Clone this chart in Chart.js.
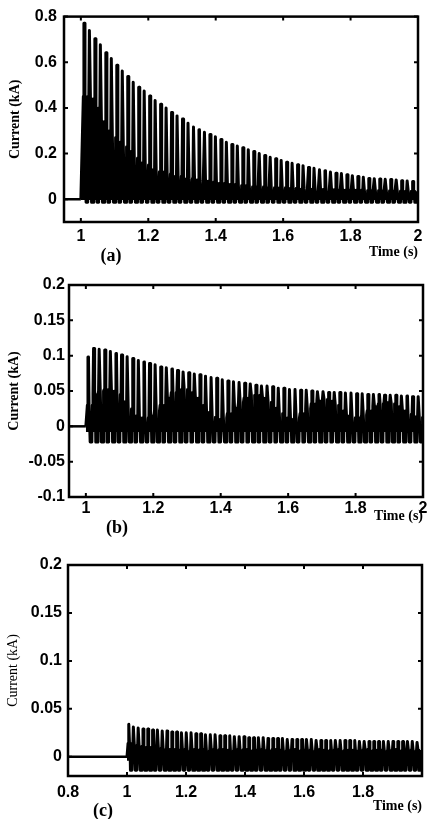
<!DOCTYPE html>
<html>
<head>
<meta charset="utf-8">
<script src="https://cdn.jsdelivr.net/npm/chart.js@4/dist/chart.umd.min.js"></script>
<style>
  body { margin: 0; background: #fff; }
  #wrap { position: relative; width: 433px; height: 819px; overflow: hidden; }
  canvas { position: absolute; left: 0; }
  .cap { position: absolute; font: bold 18px 'Liberation Serif', serif; color: #000; transform: translate(-50%, -50%); }
</style>
</head>
<body>
<div id="wrap">
  <canvas id="chartA" width="433" height="270" style="top:0"></canvas>
  <canvas id="chartB" width="433" height="275" style="top:270px"></canvas>
  <canvas id="chartC" width="433" height="274" style="top:545px"></canvas>
  <div class="cap" style="left:111px;top:255px">(a)</div>
  <div class="cap" style="left:117px;top:527px">(b)</div>
  <div class="cap" style="left:103px;top:810px">(c)</div>
</div>
<script>
// fault instant, current is 0 before it
var FAULT_T = 1.0;

// (a) one peak / valley per cycle
var A_START = 1.0098, A_PERIOD = 0.01625, A_TROUGH = -0.013, A_FLOOR = -0.004;
var A_PEAKS = [0.771, 0.739, 0.703, 0.677, 0.642, 0.616, 0.587, 0.562, 0.538, 0.512,
  0.490, 0.474, 0.452, 0.432, 0.416, 0.399, 0.380, 0.365, 0.351, 0.333,
  0.316, 0.304, 0.293, 0.283, 0.273, 0.261, 0.249, 0.240, 0.233, 0.225,
  0.217, 0.209, 0.200, 0.191, 0.184, 0.177, 0.170, 0.162, 0.157, 0.151,
  0.147, 0.139, 0.135, 0.129, 0.125, 0.119, 0.114, 0.112, 0.107, 0.103,
  0.099, 0.096, 0.091, 0.090, 0.088, 0.087, 0.086, 0.084, 0.081, 0.080, 0.078];
var A_VALLEYS = [0.45, 0.44, 0.40, 0.34, 0.30, 0.27, 0.25, 0.23, 0.21, 0.18,
  0.16, 0.15, 0.13, 0.12, 0.12, 0.11, 0.10, 0.10, 0.09, 0.09,
  0.085, 0.08, 0.08, 0.075, 0.07, 0.07, 0.065, 0.065, 0.06, 0.06,
  0.055, 0.055, 0.055, 0.05, 0.05, 0.05, 0.05, 0.048, 0.048, 0.045,
  0.045, 0.045, 0.043, 0.043, 0.042, 0.042, 0.04, 0.04, 0.04, 0.04,
  0.04, 0.038, 0.038, 0.038, 0.037, 0.037, 0.036, 0.036, 0.035, 0.035, 0.035];

// (b)
var B_START = 1.007, B_PERIOD = 0.0166, B_TROUGH = -0.022, B_FLOOR = -0.008;
var B_PEAKS = [0.098, 0.110, 0.109, 0.108, 0.106, 0.103, 0.101, 0.0985, 0.096, 0.093,
  0.091, 0.089, 0.087, 0.084, 0.083, 0.081, 0.079, 0.077, 0.076, 0.074,
  0.073, 0.071, 0.069, 0.068, 0.066, 0.064, 0.063, 0.062, 0.061, 0.060,
  0.058, 0.057, 0.057, 0.056, 0.054, 0.054, 0.052, 0.052, 0.051, 0.051,
  0.050, 0.049, 0.049, 0.048, 0.048, 0.048, 0.047, 0.047, 0.046, 0.046,
  0.045, 0.045, 0.045, 0.044, 0.044, 0.044, 0.043, 0.043, 0.042, 0.042];
var B_VALLEYS = [0.03, 0.045, 0.05, 0.052, 0.05, 0.045, 0.035, 0.025, 0.015, 0.012,
  0.012, 0.015, 0.022, 0.03, 0.04, 0.048, 0.052, 0.052, 0.048, 0.04,
  0.03, 0.02, 0.013, 0.01, 0.012, 0.018, 0.026, 0.034, 0.04, 0.044,
  0.044, 0.04, 0.034, 0.026, 0.018, 0.012, 0.01, 0.012, 0.018, 0.025,
  0.032, 0.036, 0.038, 0.036, 0.03, 0.022, 0.015, 0.012, 0.012, 0.016,
  0.022, 0.028, 0.032, 0.034, 0.032, 0.028, 0.022, 0.017, 0.014, 0.014];

// (c)
var C_START = 1.006, C_PERIOD = 0.0163, C_TROUGH = -0.014, C_FLOOR = -0.004;
var C_PEAKS = [0.034, 0.031, 0.030, 0.029, 0.029, 0.028, 0.028, 0.027, 0.027, 0.026,
  0.026, 0.025, 0.025, 0.025, 0.024, 0.024, 0.023, 0.023, 0.023, 0.022,
  0.022, 0.022, 0.021, 0.021, 0.021, 0.020, 0.020, 0.020, 0.020, 0.019,
  0.019, 0.019, 0.019, 0.018, 0.018, 0.018, 0.018, 0.018, 0.018, 0.017,
  0.017, 0.017, 0.017, 0.017, 0.017, 0.017, 0.017, 0.017, 0.016, 0.016,
  0.016, 0.016, 0.016, 0.016, 0.016, 0.016, 0.016, 0.016, 0.016, 0.016, 0.015];
var C_VALLEYS = [0.014, 0.012, 0.011, 0.010, 0.010, 0.009, 0.009, 0.008, 0.008, 0.008,
  0.007, 0.008, 0.006, 0.008, 0.007, 0.008, 0.006, 0.008, 0.007, 0.008,
  0.007, 0.006, 0.008, 0.007, 0.008, 0.006, 0.007, 0.008, 0.007, 0.006,
  0.008, 0.007, 0.006, 0.007, 0.008, 0.006, 0.007, 0.007, 0.006, 0.008,
  0.007, 0.006, 0.007, 0.008, 0.006, 0.007, 0.007, 0.006, 0.007, 0.008,
  0.006, 0.007, 0.007, 0.006, 0.007, 0.008, 0.006, 0.007, 0.007, 0.006, 0.007];

// axis ticks
var A_XTICKS = [1, 1.2, 1.4, 1.6, 1.8, 2];
var A_YTICKS = [0, 0.2, 0.4, 0.6, 0.8];
var B_XTICKS = [1, 1.2, 1.4, 1.6, 1.8, 2];
var B_YTICKS = [-0.1, -0.05, 0, 0.05, 0.1, 0.15, 0.2];
var C_XTICKS = [0.8, 1, 1.2, 1.4, 1.6, 1.8];
var C_YTICKS = [0, 0.05, 0.1, 0.15, 0.2];

// flat-topped spike per cycle, a short dip to the trough half a cycle later
function buildTrace(start, period, peaks, valleys, trough) {
  var d = period * 0.15;
  var pts = [{ x: FAULT_T, y: 0 }];
  peaks.forEach(function (p, k) {
    var t = start + k * period, v = valleys[k], h = t + period / 2;
    pts.push({ x: t - d, y: v }, { x: t - 0.3 * d, y: p }, { x: t + 0.3 * d, y: p }, { x: t + d, y: v });
    pts.push({ x: h - 1.6 * d, y: v }, { x: h - d, y: trough }, { x: h + d, y: trough }, { x: h + 1.6 * d, y: v });
  });
  return pts;
}

// MATLAB style box with inward ticks
var boxPlugin = {
  id: 'box',
  afterDraw: function (chart) {
    var ctx = chart.ctx, a = chart.chartArea, xs = chart.scales.x, ys = chart.scales.y;
    ctx.save();
    ctx.strokeStyle = '#000';
    ctx.lineWidth = 2.5;
    ctx.strokeRect(a.left, a.top, a.right - a.left, a.bottom - a.top);
    ctx.lineWidth = 2;
    ctx.beginPath();
    xs.ticks.forEach(function (t) {
      var px = xs.getPixelForValue(t.value);
      ctx.moveTo(px, a.bottom); ctx.lineTo(px, a.bottom - 4);
      ctx.moveTo(px, a.top); ctx.lineTo(px, a.top + 4);
    });
    ys.ticks.forEach(function (t) {
      var py = ys.getPixelForValue(t.value);
      ctx.moveTo(a.left, py); ctx.lineTo(a.left + 4, py);
      ctx.moveTo(a.right, py); ctx.lineTo(a.right - 4, py);
    });
    ctx.stroke();
    ctx.restore();
  }
};

var TICK_FONT = { family: 'Liberation Sans, Arial, sans-serif', size: 16, weight: 'bold' };

function makePanel(id, p) {
  new Chart(document.getElementById(id), {
    type: 'line',
    data: {
      datasets: [
        { data: [{ x: p.xmin, y: 0 }, { x: FAULT_T, y: 0 }], borderColor: '#000', borderWidth: 2.5, pointRadius: 0, fill: false },
        { data: buildTrace(p.start, p.period, p.peaks, p.valleys, p.trough), borderColor: '#000', backgroundColor: '#000',
          borderWidth: 3, borderJoinStyle: 'round', pointRadius: 0, tension: 0, fill: { value: p.floor } }
      ]
    },
    options: {
      responsive: false,
      animation: false,
      layout: { padding: p.pad },
      plugins: { legend: { display: false }, tooltip: { enabled: false } },
      scales: {
        x: {
          type: 'linear', min: p.xmin, max: p.xmax,
          grid: { display: false, drawTicks: false }, border: { display: false },
          afterBuildTicks: function (s) { s.ticks = p.xticks.map(function (v) { return { value: v }; }); },
          afterFit: function (s) { s.height = p.xh; },
          ticks: { color: '#000', font: TICK_FONT, padding: p.xpad, autoSkip: false, maxRotation: 0,
            callback: function (v) { return String(v); } },
          title: { display: true, text: 'Time (s)', align: 'end', color: '#000',
            font: { family: 'Liberation Serif, serif', size: 14, weight: 'bold' } }
        },
        y: {
          min: p.ymin, max: p.ymax,
          grid: { display: false, drawTicks: false }, border: { display: false },
          afterBuildTicks: function (s) { s.ticks = p.yticks.map(function (v) { return { value: v }; }); },
          afterFit: function (s) { s.width = p.yw; },
          ticks: { color: '#000', font: TICK_FONT, padding: p.ypad, autoSkip: false,
            callback: function (v) { return String(v); } },
          title: { display: true, text: 'Current (kA)', color: '#000',
            font: { family: 'Liberation Serif, serif', size: 14, weight: p.tw } }
        }
      }
    },
    plugins: [boxPlugin]
  });
}

makePanel('chartA', {
  xmin: 0.95, xmax: 2, ymin: -0.1, ymax: 0.8, xticks: A_XTICKS, yticks: A_YTICKS,
  start: A_START, period: A_PERIOD, peaks: A_PEAKS, valleys: A_VALLEYS, trough: A_TROUGH, floor: A_FLOOR,
  pad: { top: 15, left: 3, right: 15, bottom: 5 }, xh: 43, yw: 61, xpad: 5, ypad: 7, tw: 'bold'
});
makePanel('chartB', {
  xmin: 0.95, xmax: 2, ymin: -0.1, ymax: 0.2, xticks: B_XTICKS, yticks: B_YTICKS,
  start: B_START, period: B_PERIOD, peaks: B_PEAKS, valleys: B_VALLEYS, trough: B_TROUGH, floor: B_FLOOR,
  pad: { top: 15, left: 2, right: 10, bottom: 16 }, xh: 32, yw: 67, xpad: 2, ypad: 4, tw: 'bold'
});
makePanel('chartC', {
  xmin: 0.8, xmax: 2, ymin: -0.02, ymax: 0.2, xticks: C_XTICKS, yticks: C_YTICKS,
  start: C_START, period: C_PERIOD, peaks: C_PEAKS, valleys: C_VALLEYS, trough: C_TROUGH, floor: C_FLOOR,
  pad: { top: 20, left: 1, right: 11, bottom: 0 }, xh: 43, yw: 67, xpad: 7, ypad: 6, tw: 'normal'
});
</script>
</body>
</html>
